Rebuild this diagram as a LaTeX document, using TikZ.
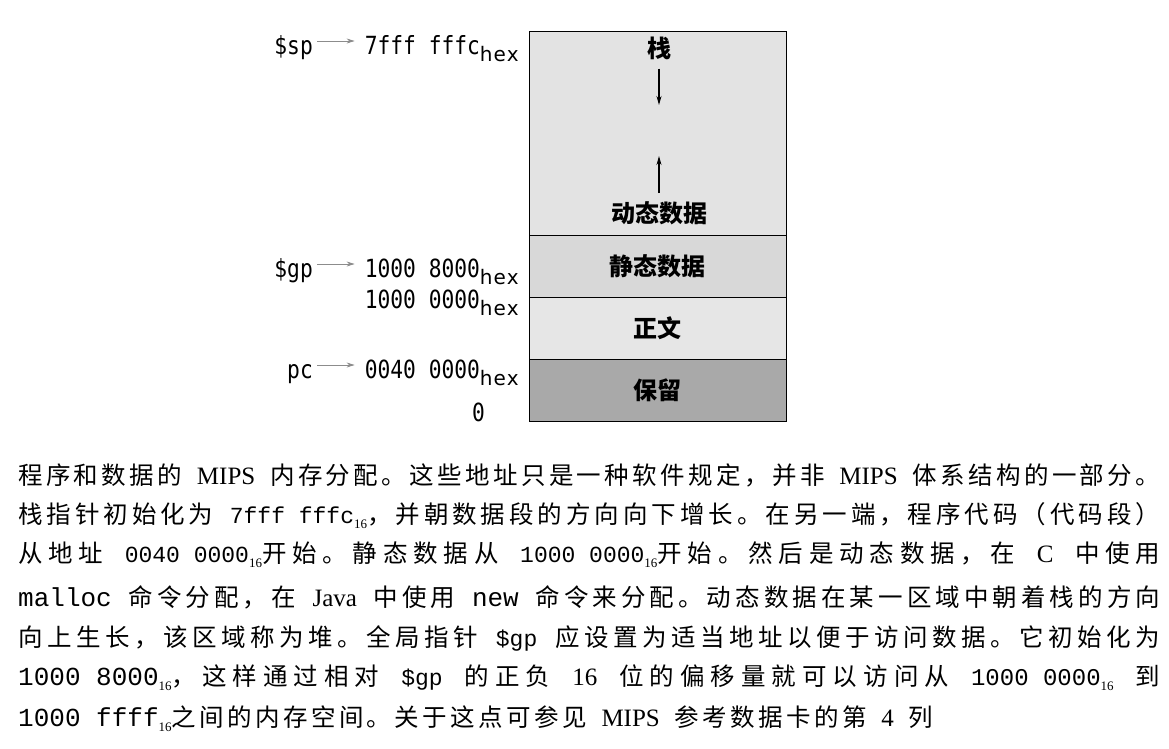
\documentclass[tikz,border=0pt]{standalone}
\usepackage{fontspec}
\usepackage{xcolor}
\setmainfont{Liberation Serif}
\setmonofont{Liberation Mono}
\newfontfamily\cjk{Noto Sans CJK SC}
\newfontfamily\addrfont{DejaVu Sans Mono}[FakeStretch=0.85]
\newfontfamily\hexfont{DejaVu Sans}
\usetikzlibrary{positioning, arrows.meta}

% stretch between CJK characters, so that caption lines can be justified
\XeTeXinterchartokenstate=1
\newXeTeXintercharclass\cjkclass
\newcount\cjkcode
\cjkcode="4E00
\loop \XeTeXcharclass\cjkcode=\cjkclass \advance\cjkcode by 1 \ifnum\cjkcode<"A000 \repeat
\XeTeXcharclass"3002=\cjkclass
\XeTeXcharclass"FF0C=\cjkclass
\XeTeXcharclass"FF08=\cjkclass
\XeTeXcharclass"FF09=\cjkclass
\XeTeXinterchartoks \cjkclass \cjkclass = {\hskip0pt plus 1pt}
\XeTeXinterchartoks \cjkclass 0 = {\hskip0pt plus 1pt}
\XeTeXinterchartoks 0 \cjkclass = {\hskip0pt plus 1pt}

\definecolor{stackgray}{HTML}{E3E3E3}
\definecolor{staticgray}{HTML}{D8D8D8}
\definecolor{textgray}{HTML}{E6E6E6}
\definecolor{reservedgray}{HTML}{A9A9A9}
\definecolor{ptrgray}{HTML}{8C8C8C}

\newcommand\hexsub{\raisebox{-7pt}{\hexfont\fontsize{20}{20}\selectfont h\kern1pt e\kern1pt x}}
\newcommand\code[2][23]{{\ttfamily\fontsize{#1}{#1}\selectfont #2}}
\newcommand\en[1]{{\rmfamily\fontsize{25}{25}\selectfont #1}}
\newcommand\sixteen{\raisebox{-5pt}{\rmfamily\fontsize{13}{13}\selectfont 16}}

\begin{document}
\begin{tikzpicture}[x=1pt, y=-1pt,
        addr/.style={anchor=base east, inner sep=0, font=\addrfont\fontsize{25}{25}\selectfont},
        ptr/.style={draw=ptrgray, line width=0.9pt, -{Stealth[length=8pt,width=5pt]}},
        seg/.style={draw, line width=1pt, minimum width=257pt, inner sep=0, outer sep=0, anchor=north,
            font=\cjk\bfseries\fontsize{24}{24}\selectfont},
        lbl/.style={inner sep=0, font=\cjk\bfseries\fontsize{24}{24}\selectfont},
        growarrow/.style={line width=1.1pt, -{Stealth[length=9pt,width=5pt]}},
        capline/.style={anchor=base west, inner sep=0, font=\cjk\fontsize{24.5}{24.5}\selectfont}]
        \useasboundingbox (0,0) rectangle (1169,748);

        % memory segments
        \node[seg, minimum height=204pt, fill=stackgray] (stackSeg) at (657.5,31) {};
        \node[seg, minimum height=62pt, fill=staticgray, below=0pt of stackSeg] (staticSeg) {静态数据};
        \node[seg, minimum height=62pt, fill=textgray, below=0pt of staticSeg] (textSeg) {正文};
        \node[seg, minimum height=62pt, fill=reservedgray, below=0pt of textSeg] (reservedSeg) {保留};

        \node[lbl] (stackLbl) at (659,48) {栈};
        \node[lbl] (heapLbl) at (659,213) {动态数据};
        \coordinate (stackTip) at (659,105);
        \coordinate (heapTip) at (659,156);
        \draw[growarrow, shorten <=9pt] (stackLbl) -- (stackTip);
        \draw[growarrow, shorten <=8pt] (heapLbl) -- (heapTip);

        % addresses
        \node[addr] (spAddr) at (519,54) {7fff fffc\hexsub};
        \node[addr] (spReg) at (313,54) {\$sp};
        \node[addr] (gpAddr) at (519,277) {1000 8000\hexsub};
        \node[addr] (gpReg) at (313,277) {\$gp};
        \node[addr] (dataAddr) at (519,308) {1000 0000\hexsub};
        \node[addr] (pcAddr) at (519,378) {0040 0000\hexsub};
        \node[addr] (pcReg) at (313,378) {pc};
        \node[addr] (zeroAddr) at (485,421) {0};

        \draw[ptr] ([shift={(4pt,13pt)}]spReg.base east) -- ([shift={(-10pt,13pt)}]spAddr.base west);
        \draw[ptr] ([shift={(4pt,13pt)}]gpReg.base east) -- ([shift={(-10pt,13pt)}]gpAddr.base west);
        \draw[ptr] ([shift={(4pt,13pt)}]pcReg.base east) -- ([shift={(-10pt,13pt)}]pcAddr.base west);

        % caption
        \node[capline] (capA) at (18,484) {\makebox[1142pt][s]{程序和数据的 \en{MIPS} 内存分配。这些地址只是一种软件规定，并非 \en{MIPS} 体系结构的一部分。}};
        \node[capline] (capB) at (18,523) {\makebox[1142pt][s]{栈指针初始化为 \code{7fff fffc}\sixteen，并朝数据段的方向向下增长。在另一端，程序代码（代码段）}};
        \node[capline] (capC) at (18,562) {\makebox[1142pt][s]{从地址 \code{0040 0000}\sixteen 开始。静态数据从 \code{1000 0000}\sixteen 开始。然后是动态数据，在 \en{C} 中使用}};
        \node[capline] (capD) at (18,606) {\makebox[1142pt][s]{\code[26]{malloc} 命令分配，在 \en{Java} 中使用 \code[26]{new} 命令来分配。动态数据在某一区域中朝着栈的方向}};
        \node[capline] (capE) at (18,646) {\makebox[1142pt][s]{向上生长，该区域称为堆。全局指针 \code{\$gp} 应设置为适当地址以便于访问数据。它初始化为}};
        \node[capline] (capF) at (18,685) {\makebox[1142pt][s]{\code[26]{1000 8000}\sixteen，这样通过相对 \code{\$gp} 的正负 \en{16} 位的偏移量就可以访问从 \code[24]{1000 0000}\sixteen\ 到}};
        \node[capline] (capG) at (18,726) {\makebox[915pt][s]{\code[26]{1000 ffff}\sixteen 之间的内存空间。关于这点可参见 \en{MIPS} 参考数据卡的第 \en{4} 列}};
    \end{tikzpicture}
\end{document}
